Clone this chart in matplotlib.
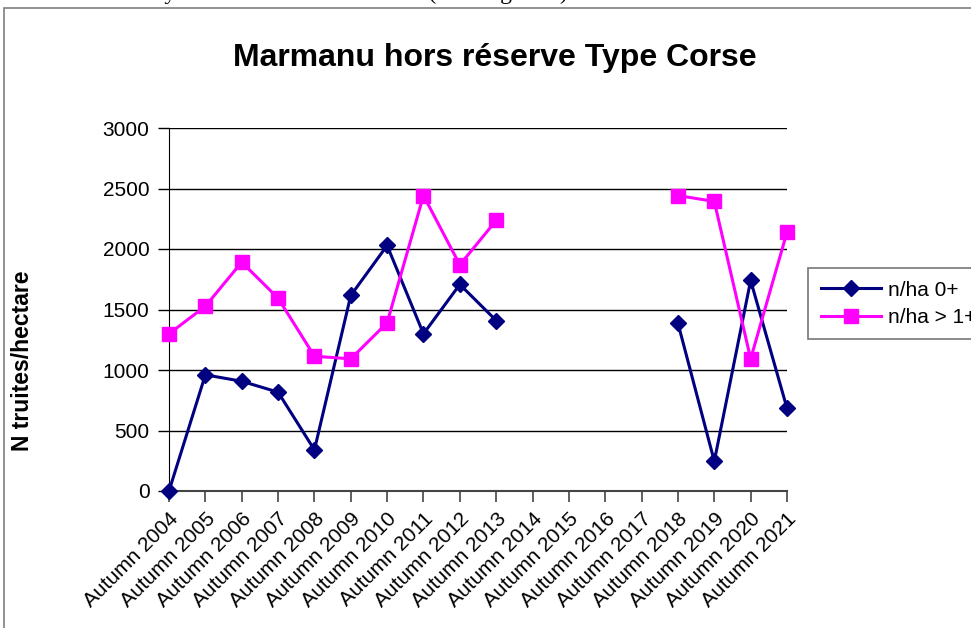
import matplotlib
matplotlib.use('Agg')
import numpy as np
import matplotlib.pyplot as plt
from matplotlib.patches import Rectangle

plt.rcParams['font.family'] = ['Liberation Sans', 'DejaVu Sans']

# data
years = list(range(2004, 2022))
labels = ['Autumn %d' % y for y in years]
nan = np.nan
n_0plus = [0, 960, 907, 817, 340, 1616, 2029, 1299, 1707, 1409,
           nan, nan, nan, nan, 1387, 246, 1740, 684]
n_1plus = [1299, 1527, 1891, 1594, 1114, 1092, 1390, 2442, 1869, 2236,
           nan, nan, nan, nan, 2442, 2393, 1092, 2139]
yticks = [0, 500, 1000, 1500, 2000, 2500, 3000]

W, H = 971, 628
fig = plt.figure(figsize=(W / 100, H / 100), dpi=100)

# page text cut at the top, and the chart frame
fig.text(0.36, 1 + 7 / H, "analyses de la densité de truites (voir Figure 3).",
         family='Liberation Serif', fontsize=17, ha='center', va='center')
fig.patches.append(Rectangle((4 / W, -0.1), 1.1, 1 - 8 / H + 0.1,
                             transform=fig.transFigure, fill=False,
                             edgecolor='#7f7f7f', linewidth=1.2))

ax = fig.add_axes([169 / W, 1 - 491 / H, (787 - 169) / W, (491 - 128) / H])
x = np.arange(len(labels))

ax.plot(x, n_0plus, color='#000080', linewidth=2.2, marker='D', markersize=8,
        label='n/ha 0+', zorder=3, clip_on=False)
ax.plot(x, n_1plus, color='#ff00ff', linewidth=2.2, marker='s', markersize=10,
        label='n/ha > 1+', zorder=4, clip_on=False)

ax.set_xlim(0, len(labels) - 1)
ax.set_ylim(0, 3000)
ax.set_yticks(yticks)
ax.set_yticklabels([str(v) for v in yticks], fontsize=15)
ax.set_xticks(x)
ax.set_xticklabels(labels, fontsize=15, rotation=45, ha='right',
                   rotation_mode='anchor')
ax.tick_params(axis='x', direction='out', length=8, width=1.2, color='#444444', pad=5)
ax.tick_params(axis='y', direction='out', length=8, width=1.0, color='black', pad=6)

ax.grid(axis='y', color='black', linewidth=1.0)
ax.set_axisbelow(True)
for s in ['top', 'right']:
    ax.spines[s].set_visible(False)
ax.spines['left'].set_color('black')
ax.spines['bottom'].set_color('#444444')
ax.spines['bottom'].set_linewidth(1.5)

ax.set_ylabel('N truites/hectare', fontsize=16.5, fontweight='bold')
ax.yaxis.set_label_coords(-(169 - 34) / (787 - 169), (491 - 361) / (491 - 128))

fig.text(495 / W, 1 - 58 / H, 'Marmanu hors réserve Type Corse',
         fontsize=23, fontweight='bold', ha='center', va='center')

leg = fig.legend(loc='upper left', bbox_to_anchor=(808 / W, 1 - 268 / H),
                 fontsize=15, frameon=True, fancybox=False, handlelength=2.9,
                 borderpad=0.6, labelspacing=0.4, handletextpad=0.35,
                 borderaxespad=0)
leg.get_frame().set_edgecolor('#555555')
leg.get_frame().set_linewidth(1.2)

fig.savefig('out.png', dpi=100)
